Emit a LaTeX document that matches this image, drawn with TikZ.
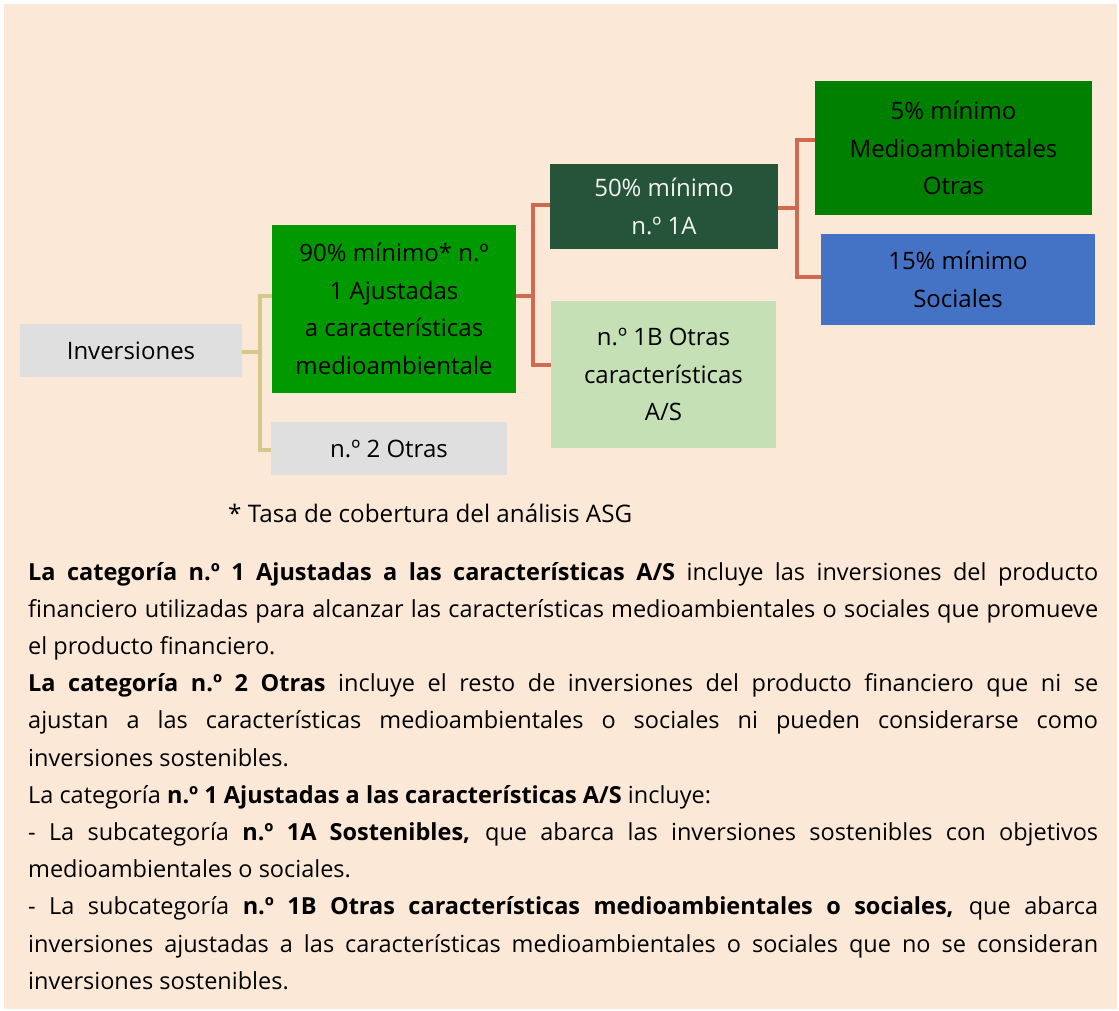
\documentclass[tikz,border=0pt]{standalone}
\usepackage{fontspec}
\setmainfont{Open Sans}
\definecolor{bgbeige}{HTML}{FBE8D6}
\definecolor{boxgray}{HTML}{DFDFDF}
\definecolor{green90}{HTML}{009900}
\definecolor{darkgreen}{HTML}{26543A}
\definecolor{green5}{HTML}{008000}
\definecolor{blue15}{HTML}{4472C4}
\definecolor{lightgreen}{HTML}{C5E0B4}
\definecolor{khaki}{HTML}{D4C88A}
\definecolor{rust}{HTML}{CF694F}
\definecolor{offwhite}{HTML}{F2F2F2}
\tikzset{
  catbox/.style={rectangle, inner sep=0pt, align=center, text=black,
    font=\fontsize{24}{37.5}\selectfont},
  linkA/.style={draw=khaki, line width=4pt},
  linkB/.style={draw=rust, line width=4pt},
  para/.style={anchor=base west, inner sep=0pt, font=\fontsize{23.5}{37}\selectfont}
}
\begin{document}
\begin{tikzpicture}[x=1pt,y=-1pt]
\useasboundingbox (0,0) rectangle (1119,1011);
\fill[bgbeige] (4,4) rectangle (1117,1009);

% boxes
\node[catbox, fill=boxgray, minimum width=222pt, minimum height=53pt] (inv) at (131,350.5) {Inversiones};
\node[catbox, fill=green90, minimum width=244pt, minimum height=168pt] (n90) at (394,309) {90\% mínimo* n.º\\1 Ajustadas\\a características\\medioambientale};
\node[catbox, fill=boxgray, minimum width=236pt, minimum height=53pt] (n2) at (389,448.5) {n.º 2 Otras};
\node[catbox, fill=darkgreen, text=offwhite, minimum width=228pt, minimum height=85pt] (n50) at (664,206.5) {50\% mínimo\\n.º 1A};
\node[catbox, fill=lightgreen, minimum width=225pt, minimum height=147pt] (n1B) at (663.5,374.5) {n.º 1B Otras\\características\\A/S};
\node[catbox, fill=green5, minimum width=277pt, minimum height=134pt] (n5) at (953.5,148) {5\% mínimo\\Medioambientales\\Otras};
\node[catbox, fill=blue15, minimum width=274pt, minimum height=91pt] (n15) at (958,279.5) {15\% mínimo\\Sociales};

% connectors
\coordinate (j1) at (260,352);
\draw[linkA] (inv.east |- j1) -- (j1);
\draw[linkA] ([yshift=13pt]n90.west) -| (j1) |- ([yshift=-1.5pt]n2.west);
\coordinate (j2) at (532.5,296);
\draw[linkB] ([yshift=13pt]n90.east) -- (j2);
\draw[linkB] ([yshift=1.5pt]n50.west) -| (j2) |- ([yshift=9.5pt]n1B.west);
\coordinate (j3) at (797,208.5);
\draw[linkB] (n50.east |- j3) -- (j3);
\draw[linkB] ([yshift=8pt]n5.west) -| (j3) |- ([yshift=2.5pt]n15.west);

% footnote
\node[anchor=base west, inner sep=0pt, font=\fontsize{24.2}{30}\selectfont] (foot) at (228,522) {* Tasa de cobertura del análisis ASG};

% explanatory text
\node[para] (l1) at (28,580) {\hbox to 1070pt{\bfseries La categoría n.º 1 Ajustadas a las características A/S\mdseries{} incluye las inversiones del producto}};
\node[para] (l2) at (28,617.2) {\hbox to 1070pt{financiero utilizadas para alcanzar las características medioambientales o sociales que promueve}};
\node[para] (l3) at (28,654.4) {el producto financiero.};
\node[para] (l4) at (28,691.6) {\hbox to 1070pt{\bfseries La categoría n.º 2 Otras\mdseries{} incluye el resto de inversiones del producto financiero que ni se}};
\node[para] (l5) at (28,728.8) {\hbox to 1070pt{ajustan a las características medioambientales o sociales ni pueden considerarse como}};
\node[para] (l6) at (28,766) {inversiones sostenibles.};
\node[para] (l7) at (28,803.2) {La categoría \textbf{n.º 1 Ajustadas a las características A/S} incluye:};
\node[para] (l8) at (28,840.4) {\hbox to 1070pt{- La subcategoría \bfseries n.º 1A Sostenibles,\mdseries{} que abarca las inversiones sostenibles con objetivos}};
\node[para] (l9) at (28,877.6) {medioambientales o sociales.};
\node[para] (l10) at (28,914.8) {\hbox to 1070pt{- La subcategoría \bfseries n.º 1B Otras características medioambientales o sociales,\mdseries{} que abarca}};
\node[para] (l11) at (28,952) {\hbox to 1070pt{inversiones ajustadas a las características medioambientales o sociales que no se consideran}};
\node[para] (l12) at (28,989.2) {inversiones sostenibles.};
\end{tikzpicture}
\end{document}
